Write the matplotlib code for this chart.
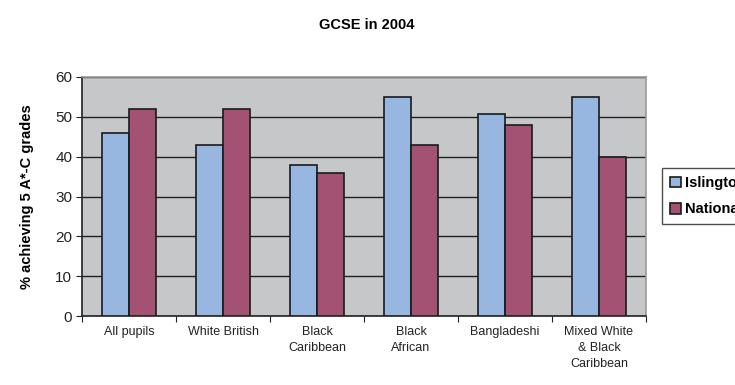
import matplotlib
matplotlib.use("Agg")
import matplotlib.pyplot as plt
import numpy as np

categories = ["All pupils", "White British", "Black\nCaribbean", "Black\nAfrican",
              "Bangladeshi", "Mixed White\n& Black\nCaribbean"]
islington = [46, 43, 38, 55, 50.7, 55]
national = [52, 52, 36, 43, 48, 40]
series_names = ["Islington", "National"]
yticks = [0, 10, 20, 30, 40, 50, 60]

plt.rcParams['font.family'] = ['Liberation Sans', 'DejaVu Sans']

fig = plt.figure(figsize=(7.35, 3.85), dpi=100)
ax = fig.add_axes([82/735, 1-316/385, (646-82)/735, (316-77)/385])
ax.set_facecolor('#C6C7C9')

x = np.arange(len(categories))
w = 0.285
b1 = ax.bar(x - w/2, islington, w, color='#97B7E0', edgecolor='#1a1a1a', linewidth=1.2,
            label=series_names[0], zorder=3)
b2 = ax.bar(x + w/2, national, w, color='#A35274', edgecolor='#1a1a1a', linewidth=1.2,
            label=series_names[1], zorder=3)

ax.set_xlim(-0.5, len(categories) - 0.5)
ax.set_ylim(0, 60)
ax.set_yticks(yticks)
ax.yaxis.grid(True, color='#202020', linewidth=1.0, zorder=1)
ax.set_axisbelow(True)

ax.set_xticks(np.arange(-0.5, len(categories), 1.0))
ax.set_xticklabels([])
ax.set_xticks(x, minor=True)
ax.set_xticklabels(categories, minor=True, fontsize=9, color='#222222', linespacing=1.45)
ax.tick_params(axis='x', which='minor', length=0, pad=7)
ax.tick_params(axis='x', which='major', length=4, direction='out', color='#222222')
ax.tick_params(axis='y', length=4, direction='out', labelsize=11, color='#222222',
               labelcolor='#222222', pad=3)

for s in ['top', 'right']:
    ax.spines[s].set_color('#999999')
    ax.spines[s].set_linewidth(1.2)
for s in ['left', 'bottom']:
    ax.spines[s].set_color('#222222')
    ax.spines[s].set_linewidth(1.2)

ax.set_ylabel("% achieving 5 A*-C grades", fontsize=10.5, fontweight='bold')
ax.yaxis.set_label_coords((34 - 82) / (646 - 82), 0.5)

fig.text(367/735, 1-25/385, "GCSE in 2004", ha='center', va='center',
         fontsize=10.5, fontweight='bold')

leg = fig.legend(handles=[b1, b2], labels=series_names, loc='upper left',
                 bbox_to_anchor=(662/735, 1-168/385), frameon=True, fancybox=False,
                 prop={'weight': 'bold', 'size': 10.5}, handlelength=0.75, handleheight=0.75,
                 handletextpad=0.3, borderpad=0.55, labelspacing=0.85, borderaxespad=0)
leg.get_frame().set_edgecolor('#222222')
leg.get_frame().set_linewidth(1.0)

fig.savefig("out.png", dpi=100)
